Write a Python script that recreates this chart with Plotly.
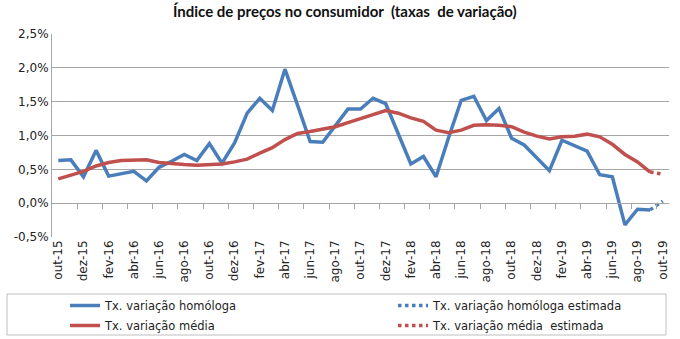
import plotly.graph_objects as go

# ---------------- data ----------------
months = ["jan", "fev", "mar", "abr", "mai", "jun", "jul", "ago", "set", "out", "nov", "dez"]
# monthly categories out-15 .. out-19
categories = []
for yr in range(15, 20):
    for mi, m in enumerate(months):
        if (yr == 15 and mi < 9) or (yr == 19 and mi > 9):
            continue
        categories.append(f"{m}-{yr}")

homologa = [0.63, 0.64, 0.39, 0.78, 0.40, 0.44, 0.47, 0.33, 0.53, 0.62, 0.72, 0.63,
            0.88, 0.59, 0.89, 1.33, 1.55, 1.37, 1.98, 1.45, 0.91, 0.90, 1.15, 1.39,
            1.39, 1.55, 1.47, 1.02, 0.58, 0.69, 0.39, 0.97, 1.52, 1.58, 1.22, 1.40,
            0.96, 0.86, 0.67, 0.48, 0.93, 0.85, 0.77, 0.42, 0.39, -0.32, -0.09, -0.10]
homologa_est = [0.03]          # out-19 (estimated)

media = [0.36, 0.41, 0.47, 0.55, 0.60, 0.63, 0.64, 0.64, 0.60, 0.58, 0.57, 0.56,
         0.57, 0.58, 0.61, 0.65, 0.74, 0.82, 0.94, 1.03, 1.06, 1.09, 1.13, 1.19,
         1.25, 1.32, 1.37, 1.33, 1.26, 1.21, 1.08, 1.04, 1.08, 1.15, 1.16, 1.15,
         1.13, 1.05, 0.99, 0.95, 0.98, 0.99, 1.02, 0.98, 0.87, 0.72, 0.61, 0.46]
media_est = [0.43]             # out-19 (estimated)

y_ticks = [-0.5, 0.0, 0.5, 1.0, 1.5, 2.0, 2.5]

# ---------------- figure ----------------
BLUE = "#4a7ebb"
RED = "#c0504d"
GRID = "#a6a6a6"
FONT = "DejaVu Sans"

n = len(categories)
idx = list(range(n))
n_obs = len(homologa)

fig = go.Figure()
fig.add_trace(go.Scatter(x=idx[:n_obs], y=homologa, mode="lines",
                         name="Tx. variação homóloga", legend="legend", legendgroup="a",
                         line=dict(color=BLUE, width=3.5)))
fig.add_trace(go.Scatter(x=idx[:n_obs], y=media, mode="lines",
                         name="Tx. variação média", legend="legend", legendgroup="b",
                         line=dict(color=RED, width=3.5)))
fig.add_trace(go.Scatter(x=idx[n_obs - 1:], y=[homologa[-1]] + homologa_est, mode="lines",
                         name="Tx. variação homóloga estimada", legend="legend2", legendgroup="c",
                         line=dict(color=BLUE, width=3.5, dash="dot")))
fig.add_trace(go.Scatter(x=idx[n_obs - 1:], y=[media[-1]] + media_est, mode="lines",
                         name="Tx. variação média  estimada", legend="legend2", legendgroup="d",
                         line=dict(color=RED, width=3.5, dash="dot")))

label_idx = idx[::2]
leg_common = dict(orientation="v", xref="container", yref="container",
                  xanchor="left", y=1 - 291 / 339, yanchor="top",
                  traceorder="grouped",
                  font=dict(family=FONT, size=11.5, color="#222"),
                  bgcolor="rgba(0,0,0,0)", borderwidth=0, tracegroupgap=1)
top, bottom = 34, 237
fig.update_layout(
    width=680, height=339,
    margin=dict(l=52, r=11, t=top, b=339 - bottom, autoexpand=False),
    paper_bgcolor="white", plot_bgcolor="white",
    separators=",.",
    font=dict(family=FONT, size=12, color="#222"),
    title=dict(text="Índice de preços no consumidor  (taxas  de variação)",
               x=0.507, xref="container", xanchor="center",
               y=1 - 12 / 339, yref="container", yanchor="middle",
               font=dict(family="Lato", size=15, color="#111", weight="bold")),
    xaxis=dict(range=[-0.5, n - 0.5], tickmode="array", tickvals=label_idx,
               ticktext=[categories[i] for i in label_idx], tickangle=-90,
               ticks="", showgrid=False, showline=False, zeroline=False, automargin=False,
               tickfont=dict(family=FONT, size=12, color="#222")),
    xaxis2=dict(range=[-0.5, n - 0.5], overlaying="x", anchor="free",
                position=(0 - y_ticks[0]) / (y_ticks[-1] - y_ticks[0]),
                showticklabels=False, showgrid=False, zeroline=False, automargin=False,
                showline=True, linecolor=GRID, linewidth=1,
                tickmode="array", tickvals=[i + 0.5 for i in idx[1::2]],
                ticks="outside", ticklen=5, tickcolor=GRID, tickwidth=1),
    yaxis=dict(range=[y_ticks[0], y_ticks[-1]], tickmode="array", tickvals=y_ticks,
               ticktext=[f"{v:.1f}".replace(".", ",") + "%" for v in y_ticks],
               showgrid=True, gridcolor=GRID, gridwidth=1, zeroline=False, automargin=False,
               showline=True, linecolor=GRID, linewidth=1, ticks="",
               tickfont=dict(family=FONT, size=12, color="#222")),
    showlegend=True,
    legend=dict(x=65 / 680, **leg_common),
    legend2=dict(x=393 / 680, **leg_common),
    shapes=[dict(type="rect", xref="paper", yref="paper",
                 x0=(7 - 52) / 617, x1=(666 - 52) / 617,
                 y0=(bottom - 335) / (bottom - top), y1=(bottom - 294) / (bottom - top),
                 line=dict(color="#bfbfbf", width=1), fillcolor="rgba(0,0,0,0)")],
)
# invisible trace so the secondary axis is rendered
fig.add_trace(go.Scatter(x=[idx[0]], y=[y_ticks[0]], xaxis="x2", mode="markers",
                         marker=dict(opacity=0), showlegend=False, hoverinfo="skip"))

fig.write_html("out.html")
